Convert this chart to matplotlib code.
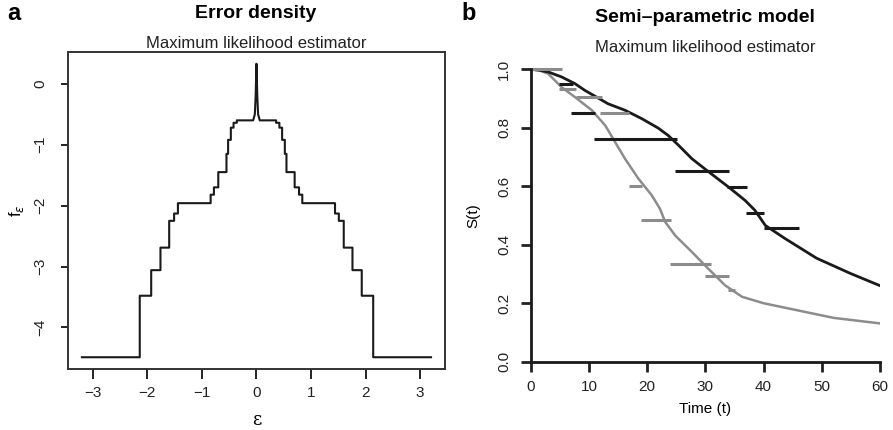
import numpy as np
import matplotlib
matplotlib.use("Agg")
from matplotlib import pyplot as plt

plt.rcParams['font.family'] = ['Liberation Sans', 'DejaVu Sans']

# panel a: log error density (left half, mirrored to the right)
eps_steps = [-3.2, -2.14, -1.93, -1.76, -1.60, -1.51, -1.44, -0.84, -0.78, -0.70,
             -0.55, -0.52, -0.47, -0.42, -0.36]
logf_steps = [-4.49, -3.48, -3.06, -2.69, -2.25, -2.13, -1.96, -1.82, -1.70, -1.45,
              -1.15, -0.92, -0.72, -0.64, -0.60]
spike_eps = [-0.06, -0.03, -0.015, 0.0]
spike_logf = [-0.59, -0.50, -0.20, 0.33]

# panel b: survival curves
t_black = [0, 1.5, 3.0, 5.3, 7.6, 9.3, 11.3, 13.3, 16.2, 19.1, 21.9, 23.6, 25.4,
           27.7, 30.2, 34.0, 36.8, 38.5, 40.3, 43.7, 49.1, 54.9, 60]
s_black = [1.0, 0.997, 0.991, 0.974, 0.951, 0.928, 0.905, 0.882, 0.860, 0.831, 0.799,
           0.774, 0.740, 0.694, 0.655, 0.597, 0.552, 0.518, 0.466, 0.421, 0.354,
           0.302, 0.26]
t_gray = [0, 1.5, 3.0, 5.3, 7.6, 10.5, 12.8, 14.5, 16.2, 18.5, 20.8, 22.2, 23.1,
          24.8, 27.7, 30.5, 33.4, 36.3, 40, 46, 52, 60]
s_gray = [1.0, 0.996, 0.985, 0.939, 0.905, 0.860, 0.808, 0.751, 0.694, 0.626, 0.569,
          0.523, 0.478, 0.432, 0.375, 0.318, 0.261, 0.222, 0.200, 0.175, 0.150, 0.131]

# interval segments
seg_black_lo = [4.9, 6.9, 10.9, 24.8, 33.7, 37.0, 40.0]
seg_black_hi = [7.2, 11.0, 25.1, 34.1, 37.1, 40.1, 46.0]
seg_black_s = [0.950, 0.849, 0.761, 0.653, 0.599, 0.507, 0.458]
seg_gray_lo = [0, 4.9, 7.7, 11.9, 16.9, 18.9, 24.0, 30.0, 33.8]
seg_gray_hi = [5.4, 7.7, 12.2, 16.8, 19.2, 24.1, 31.0, 34.1, 35.1]
seg_gray_s = [1.0, 0.933, 0.906, 0.849, 0.601, 0.486, 0.334, 0.293, 0.245]

DARK = '#1a1a1a'
GRAY = '#8c8c8c'

fig = plt.figure(figsize=(8.93, 4.3), dpi=100)

# ---- panel a
ax1 = fig.add_axes([0.0761, 0.1419, 0.4222, 0.7372])
xs, ys = [], []
edges = eps_steps + [spike_eps[0]]
for i, v in enumerate(logf_steps):
    xs += [edges[i], edges[i + 1]]
    ys += [v, v]
xs += spike_eps[1:]
ys += spike_logf[1:]
xs = np.array(xs)
ys = np.array(ys)
x_full = np.concatenate([xs, -xs[::-1][1:]])
y_full = np.concatenate([ys, ys[::-1][1:]])
ax1.plot(x_full, y_full, color=DARK, lw=1.5)
ax1.margins(x=0.04, y=0.04)
ax1.set_xticks([-3, -2, -1, 0, 1, 2, 3])
ax1.set_yticks([0, -1, -2, -3, -4])
ax1.set_xticklabels(['\u22123', '\u22122', '\u22121', '0', '1', '2', '3'])
ax1.set_yticklabels(['0', '\u22121', '\u22122', '\u22123', '\u22124'], rotation=90, va='center')
for s in ax1.spines.values():
    s.set_linewidth(1.4)
    s.set_color('#333333')
ax1.tick_params(axis='x', length=7, width=1.4, pad=5, labelsize=11, colors='#222222')
ax1.tick_params(axis='y', length=5, width=1.4, pad=10, labelsize=11, colors='#222222')
ax1.set_xlabel('\u03b5', fontsize=13, family=['DejaVu Serif'], labelpad=8)
ax1.set_ylabel('f$_\\epsilon$', fontsize=12)
ax1.yaxis.set_label_coords(-0.112, 0.5)

fig.text(256 / 893, 1 - 14 / 430, 'Error density', ha='center', va='center',
         fontsize=14, fontweight='bold')
fig.text(256 / 893, 1 - 44 / 430, 'Maximum likelihood estimator', ha='center',
         va='center', fontsize=12, color='#222222')
fig.text(14 / 893, 1 - 14 / 430, 'a', ha='center', va='center', fontsize=17,
         fontweight='bold')

# ---- panel b
ax2 = fig.add_axes([0.5943, 0.1588, 0.3912, 0.68])
ax2.plot(t_gray, s_gray, color=GRAY, lw=1.8)
ax2.plot(t_black, s_black, color=DARK, lw=2.0)
ax2.hlines(seg_gray_s, seg_gray_lo, seg_gray_hi, color=GRAY, lw=2.2, clip_on=False)
ax2.hlines(seg_black_s, seg_black_lo, seg_black_hi, color=DARK, lw=2.2, clip_on=False)
ax2.set_xlim(0, 60)
ax2.set_ylim(0, 1)
ax2.set_xticks([0, 10, 20, 30, 40, 50, 60])
ax2.set_yticks([0.0, 0.2, 0.4, 0.6, 0.8, 1.0])
ax2.set_yticklabels(['0.0', '0.2', '0.4', '0.6', '0.8', '1.0'], rotation=90, va='center')
ax2.spines['top'].set_visible(False)
ax2.spines['right'].set_visible(False)
for k in ['left', 'bottom']:
    ax2.spines[k].set_linewidth(2.0)
    ax2.spines[k].set_color(DARK)
ax2.tick_params(axis='both', length=7, width=2.0, labelsize=11, colors='#222222')
ax2.tick_params(axis='x', pad=6)
ax2.tick_params(axis='y', pad=7)
ax2.set_xlabel('Time (t)', fontsize=11, labelpad=6)
ax2.set_ylabel('S(t)', fontsize=11, labelpad=12)

fig.text(705 / 893, 1 - 17 / 430, 'Semi\u2013parametric model', ha='center',
         va='center', fontsize=14, fontweight='bold')
fig.text(705 / 893, 1 - 48 / 430, 'Maximum likelihood estimator', ha='center',
         va='center', fontsize=12, color='#222222')
fig.text(469 / 893, 1 - 14 / 430, 'b', ha='center', va='center', fontsize=17,
         fontweight='bold')

fig.savefig('out.png', dpi=100)
